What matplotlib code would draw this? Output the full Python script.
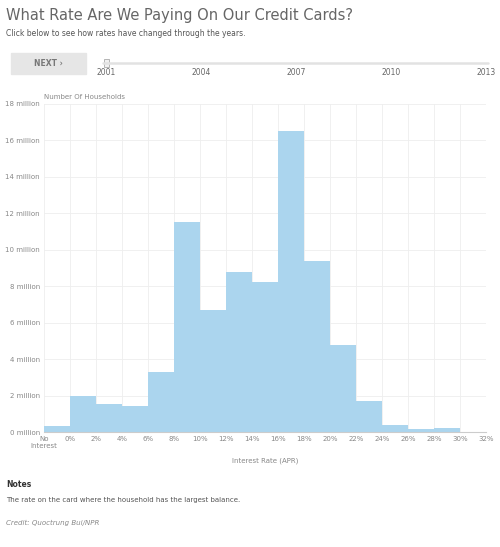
import matplotlib.pyplot as plt
import numpy as np

# bin left edges in percent APR; -2 stands for the "No Interest" bin
bin_left = [-2, 0, 2, 4, 6, 8, 10, 12, 14, 16, 18, 20, 22, 24, 26, 28, 30]
households_m = [0.35, 2.0, 1.55, 1.45, 3.3, 11.5, 6.7, 8.8, 8.25, 16.5,
                9.4, 4.8, 1.7, 0.4, 0.15, 0.2, 0.0]
x_ticks = [-2, 0, 2, 4, 6, 8, 10, 12, 14, 16, 18, 20, 22, 24, 26, 28, 30, 32]
x_labels = ['No\nInterest'] + [f'{v}%' for v in x_ticks[1:]]
y_ticks = [0, 2, 4, 6, 8, 10, 12, 14, 16, 18]
years = ['2001', '2004', '2007', '2010', '2013']

plt.rcParams['font.family'] = ['DejaVu Sans']
fig = plt.figure(figsize=(5.0, 5.47), dpi=100)
grey = '#888888'

fig.text(0.012, 0.972, 'What Rate Are We Paying On Our Credit Cards?',
         fontsize=10.5, color='#666666', va='center')
fig.text(0.012, 0.938, 'Click below to see how rates have changed through the years.',
         fontsize=5.5, color='#555555', va='center')

# next button and slider
btn = plt.Rectangle((0.022, 0.864), 0.15, 0.04, transform=fig.transFigure,
                    color='#e6e6e6', zorder=0)
fig.patches.append(btn)
fig.text(0.097, 0.884, 'NEXT ›', fontsize=5.5, color='#777777',
         ha='center', va='center', fontweight='bold')
fig.add_artist(plt.Line2D([0.205, 0.975], [0.884, 0.884], transform=fig.transFigure,
                          color='#e2e2e2', lw=1.8, solid_capstyle='round'))
fig.patches.append(plt.Rectangle((0.208, 0.877), 0.01, 0.016, transform=fig.transFigure,
                                 facecolor='#f0f0f0', edgecolor='#aaaaaa', lw=0.6))
for i, yr in enumerate(years):
    fig.text(0.213 + i * (0.973 - 0.213) / 4, 0.868, yr, fontsize=5.5,
             color='#666666', ha='center', va='center')

ax = fig.add_axes([0.088, 0.21, 0.884, 0.6])
ax.bar(bin_left, households_m, width=2, align='edge', color='#abd5ee', zorder=2)
ax.set_xlim(-2, 32)
ax.set_ylim(0, 18)
ax.set_xticks(x_ticks)
ax.set_xticklabels(x_labels)
ax.set_yticks(y_ticks)
ax.set_yticklabels([f'{v} million' for v in y_ticks])
ax.tick_params(labelsize=5, colors=grey, length=0, pad=3)
ax.grid(True, color='#eeeeee', lw=0.6, zorder=0)
for s in ['top', 'right', 'left']:
    ax.spines[s].set_visible(False)
ax.spines['bottom'].set_color('#cccccc')
ax.text(0.0, 1.012, 'Number Of Households', transform=ax.transAxes,
        fontsize=5, color=grey, va='bottom')
ax.set_xlabel('Interest Rate (APR)', fontsize=5, color=grey, labelpad=6)

fig.text(0.012, 0.11, 'Notes', fontsize=5.5, color='#333333', fontweight='bold')
fig.text(0.012, 0.083, 'The rate on the card where the household has the largest balance.',
         fontsize=5, color='#555555')
fig.text(0.012, 0.04, 'Credit: Quoctrung Bui/NPR', fontsize=5, color='#888888',
         style='italic')

fig.savefig('out.png', dpi=100)
